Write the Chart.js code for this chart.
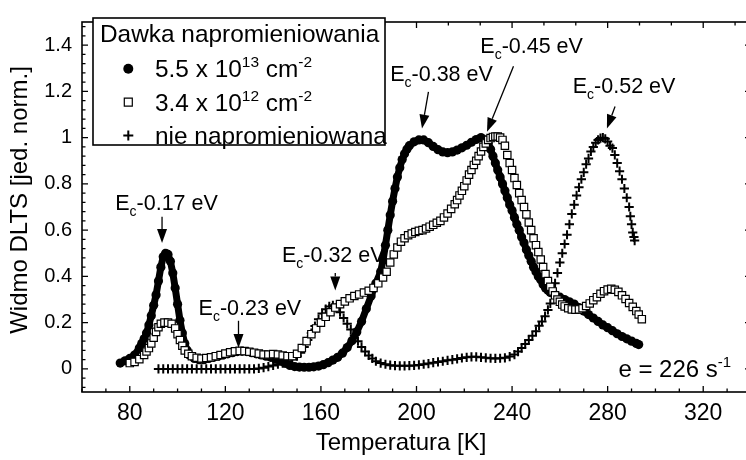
<!DOCTYPE html>
<html>
<head>
<meta charset="utf-8">
<script src="https://cdn.jsdelivr.net/npm/chart.js@4/dist/chart.umd.min.js"></script>
<style>
  html, body { margin: 0; padding: 0; background: #fff; overflow: hidden; }
  #wrap { position: relative; width: 760px; height: 460px; }
</style>
</head>
<body>
<div id="wrap"><canvas id="dlts"></canvas></div>
<script>
const FONT = "'Liberation Sans', Arial, Helvetica, sans-serif";

// DLTS spectrum, dose 5.5 x 10^13 cm^-2
const tempHigh = [76,78,80,82,84,85,86,87,88,89,90,91,92,93,94,95,96,97,98,99,100,101,102,103,104,105,107,109,111,113,115,117,119,121,123,125,127,129,131,133,135,137,139,141,143,145,147,149,151,153,155,157,159,161,163,165,167,169,171,173,175,177,179,181,183,185,186,187,188,189,190,191,192,193,194,195,196,197,199,201,203,205,207,209,211,213,215,217,219,221,223,225,227,229,230,231,232,233,234,235,236,237,238,239,240,241,242,243,244,245,246,247,248,249,250,251,252,253,254,255,256,258,260,262,264,266,268,270,272,274,276,278,280,282,284,286,288,290,292,293];
const dltsHigh = [0.025,0.035,0.045,0.06,0.09,0.11,0.13,0.155,0.19,0.23,0.275,0.32,0.38,0.44,0.485,0.5,0.495,0.465,0.415,0.35,0.28,0.21,0.155,0.11,0.08,0.06,0.045,0.04,0.04,0.045,0.05,0.055,0.06,0.065,0.07,0.075,0.076,0.075,0.07,0.065,0.06,0.055,0.05,0.043,0.033,0.024,0.015,0.01,0.008,0.007,0.007,0.009,0.012,0.018,0.027,0.038,0.05,0.068,0.092,0.122,0.16,0.205,0.26,0.315,0.37,0.42,0.47,0.535,0.6,0.665,0.725,0.78,0.83,0.87,0.905,0.93,0.95,0.965,0.982,0.99,0.99,0.978,0.962,0.948,0.938,0.935,0.938,0.946,0.956,0.967,0.98,0.992,1.0,0.99,0.975,0.95,0.92,0.89,0.86,0.83,0.8,0.77,0.74,0.71,0.685,0.655,0.625,0.6,0.57,0.545,0.515,0.49,0.465,0.44,0.42,0.4,0.385,0.365,0.35,0.34,0.33,0.32,0.31,0.3,0.29,0.28,0.265,0.25,0.235,0.22,0.205,0.19,0.178,0.165,0.152,0.14,0.13,0.12,0.11,0.105];

// DLTS spectrum, dose 3.4 x 10^12 cm^-2
const tempLow = [80,82,84,86,87,88,89,90,91,92,93,94.5,96,97.5,99,100,101,102,103,104.5,106,108,110,112,114,116,118,120,122,124,126,128,130,132,134,136,138,140,142,144,146,148,150,152,154,156,158,160,162,164,166,168,170,172,174,176,178,180,182,184,186,187.5,189,190.5,192,193.5,195,196.5,198,199.5,201,202.5,204,205.5,207,208.5,210,211.5,213,214.5,216,217,218,219,220,221,222,223,224,225,226,227,228,229,230,231,232,233,234,235,236,237,238,239,240,241,242,243,244,245,246,247,248,249,250,251,252,253,254,255,256,257,258,259,260,261,262,263.5,265,266.5,268,269.5,271,272.5,274,275.5,277,278.5,280,281.5,283,284.5,286,287.5,289,290.5,292,293,294.3];
const dltsLow = [0.025,0.03,0.042,0.06,0.075,0.09,0.11,0.135,0.16,0.18,0.195,0.2,0.2,0.195,0.175,0.15,0.125,0.1,0.08,0.065,0.055,0.048,0.045,0.047,0.05,0.055,0.06,0.066,0.072,0.076,0.078,0.077,0.074,0.07,0.066,0.062,0.062,0.064,0.062,0.058,0.055,0.055,0.065,0.09,0.12,0.15,0.175,0.2,0.225,0.245,0.265,0.28,0.292,0.305,0.315,0.322,0.33,0.338,0.35,0.37,0.395,0.42,0.46,0.495,0.525,0.55,0.565,0.578,0.585,0.592,0.597,0.6,0.607,0.615,0.623,0.632,0.64,0.655,0.672,0.692,0.712,0.73,0.75,0.77,0.79,0.815,0.84,0.86,0.882,0.9,0.92,0.94,0.96,0.975,0.99,0.998,1.003,1.005,1.005,1.0,0.99,0.965,0.925,0.89,0.86,0.825,0.795,0.76,0.73,0.7,0.668,0.633,0.6,0.565,0.535,0.505,0.473,0.44,0.41,0.38,0.355,0.335,0.318,0.3,0.29,0.278,0.27,0.262,0.257,0.256,0.257,0.262,0.272,0.283,0.297,0.31,0.325,0.336,0.343,0.346,0.342,0.333,0.318,0.302,0.285,0.268,0.25,0.235,0.215];

// DLTS spectrum, non-irradiated sample
const tempRef = [92,94,96,98,100,102,104,106,108,110,112,114,116,118,120,122,124,126,128,130,132,134,136,138,140,142,144,146,148,150,151.5,153,154.5,156,157.5,159,160.5,162,163.5,165,166.5,168,169.5,171,172.5,174,175.5,177,178.5,180,181.5,183,185,187,189,191,193,195,197,199,201,203,205,207,209,211,213,215,217,219,221,223,225,227,229,231,233,235,237,239,241,242.5,244,245.5,247,248.5,250,251.3,252.5,253.8,255,256,257,258,259,260,261,262,263,264,265,266,267,268,269,270,271,272,273,274,275,276,277,278,279,280,281,282,283,284,285,286,287,288,289,289.5,290,290.5,291,291.3];
const dltsRef = [0,0,0,0,0,0,0,0,0,0,0,0,0,0,0,0,0,0,0,0,0,0.002,0.005,0.01,0.015,0.02,0.025,0.032,0.042,0.055,0.07,0.095,0.125,0.155,0.185,0.215,0.24,0.258,0.27,0.275,0.265,0.245,0.22,0.195,0.17,0.145,0.12,0.095,0.075,0.058,0.045,0.033,0.025,0.02,0.016,0.014,0.013,0.013,0.014,0.015,0.017,0.02,0.023,0.027,0.03,0.033,0.037,0.04,0.043,0.047,0.05,0.052,0.052,0.05,0.048,0.046,0.045,0.046,0.048,0.053,0.062,0.075,0.09,0.108,0.125,0.143,0.163,0.187,0.205,0.228,0.255,0.283,0.325,0.37,0.415,0.46,0.5,0.54,0.58,0.625,0.67,0.71,0.75,0.785,0.82,0.85,0.885,0.91,0.94,0.96,0.978,0.99,0.998,1.0,0.995,0.983,0.965,0.955,0.925,0.89,0.855,0.82,0.78,0.74,0.7,0.66,0.625,0.59,0.57,0.555];

// Axis tick values
const xTickValues = [80, 120, 160, 200, 240, 280, 320];
const yTickValues = [0, 0.2, 0.4, 0.6, 0.8, 1, 1.2, 1.4];

// Legend
const legendTitle = 'Dawka napromieniowania';
const legendDoses = [
  [['5.5 x 10', 0], ['13', 1], [' cm', 0], ['-2', 1]],
  [['3.4 x 10', 0], ['12', 1], [' cm', 0], ['-2', 1]],
  [['nie napromieniowana', 0]]
];

// Trap level labels: energy, label anchor (T, value), arrow start, arrow tip
const levelEnergies = ['-0.17 eV', '-0.23 eV', '-0.32 eV', '-0.38 eV', '-0.45 eV', '-0.52 eV'];
const levelLabelAt = [[73.9, 0.685], [108.8, 0.235], [143.7, 0.464], [189.0, 1.243], [226.7, 1.364], [265.4, 1.191]];
const levelArrowFrom = [[93.5, 0.658], [125.5, 0.208], [166.0, 0.415], [205.0, 1.198], [240.6, 1.309], [283.1, 1.135]];
const levelArrowTo = [[93.5, 0.544], [125.5, 0.090], [166.0, 0.339], [202.3, 1.039], [229.5, 1.025], [279.7, 1.039]];

const rateLabel = [['e = 226 s', 0], ['-1', 1]];
const rateLabelAt = [284.5, -0.035];

const xTitle = 'Temperatura [K]';
const yTitle = 'Widmo DLTS [jed. norm.]';

function points(xs, ys) { return xs.map((x, i) => ({ x: x, y: ys[i] })); }

// Rich text: parts of [text, mode] with 0 = normal, 1 = superscript, 2 = subscript
function drawRich(ctx, parts, x, y, size, smallSize, supRise, subDrop) {
  ctx.textBaseline = 'alphabetic';
  ctx.textAlign = 'left';
  let cx = x;
  parts.forEach(([t, mode]) => {
    const s = mode === 0 ? size : smallSize;
    ctx.font = s + 'px ' + FONT;
    const dy = mode === 1 ? -supRise : (mode === 2 ? subDrop : 0);
    ctx.fillText(t, cx, y + dy);
    cx += ctx.measureText(t).width;
  });
  return cx;
}

function drawMarker(ctx, style, x, y) {
  ctx.save();
  ctx.strokeStyle = '#000';
  ctx.fillStyle = '#000';
  if (style === 'circle') {
    ctx.beginPath(); ctx.arc(x, y, 5, 0, Math.PI * 2); ctx.fill();
  } else if (style === 'rect') {
    ctx.lineWidth = 1.2; ctx.fillStyle = '#fff';
    ctx.beginPath(); ctx.rect(x - 4, y - 4, 8, 8); ctx.fill(); ctx.stroke();
  } else {
    ctx.lineWidth = 2;
    ctx.beginPath();
    ctx.moveTo(x - 5, y); ctx.lineTo(x + 5, y);
    ctx.moveTo(x, y - 5); ctx.lineTo(x, y + 5);
    ctx.stroke();
  }
  ctx.restore();
}

const decorations = {
  id: 'decorations',
  afterDraw(chart) {
    const ctx = chart.ctx;
    const xs = chart.scales.x, ys = chart.scales.y;
    const a = chart.chartArea;
    ctx.save();

    // Frame
    ctx.strokeStyle = '#000';
    ctx.lineWidth = 1.6;
    ctx.strokeRect(a.left, a.top, a.right - a.left, a.bottom - a.top);

    // Inward ticks
    ctx.lineWidth = 1.3;
    ctx.beginPath();
    for (let t = 60; t <= 340.01; t += 10) {
      const px = xs.getPixelForValue(t);
      const len = (t % 40 === 0) ? 6 : 3.5;
      ctx.moveTo(px, a.bottom); ctx.lineTo(px, a.bottom - len);
    }
    for (let i = 0; ; i++) {
      const t = 40 + i * 40 / 3;
      if (t > 340.01) break;
      if (t < 60) continue;
      const px = xs.getPixelForValue(t);
      const len = (i % 3 === 0) ? 6 : 3.5;
      ctx.moveTo(px, a.top); ctx.lineTo(px, a.top + len);
    }
    for (let i = -2; i <= 37; i++) {
      const v = i * 0.04;
      const py = ys.getPixelForValue(v);
      const len = (i % 5 === 0) ? 6 : 3.5;
      ctx.moveTo(a.left, py); ctx.lineTo(a.left + len, py);
      ctx.moveTo(a.right, py); ctx.lineTo(a.right - len, py);
    }
    ctx.stroke();

    // Axis titles
    ctx.fillStyle = '#000';
    ctx.font = '24px ' + FONT;
    ctx.textAlign = 'center';
    ctx.textBaseline = 'alphabetic';
    ctx.fillText(xTitle, 401, 450);
    ctx.save();
    ctx.translate(27, 200);
    ctx.rotate(-Math.PI / 2);
    ctx.fillText(yTitle, 0, 0);
    ctx.restore();

    // Trap level labels with arrows
    levelEnergies.forEach((e, i) => {
      const lx = xs.getPixelForValue(levelLabelAt[i][0]);
      const ly = ys.getPixelForValue(levelLabelAt[i][1]);
      drawRich(ctx, [['E', 0], ['c', 2], [e, 0]], lx, ly, 21.5, 14, 0, 6);
      const x0 = xs.getPixelForValue(levelArrowFrom[i][0]);
      const y0 = ys.getPixelForValue(levelArrowFrom[i][1]);
      const x1 = xs.getPixelForValue(levelArrowTo[i][0]);
      const y1 = ys.getPixelForValue(levelArrowTo[i][1]);
      const ang = Math.atan2(y1 - y0, x1 - x0);
      const hl = 14, hw = 5;
      const bx = x1 - hl * Math.cos(ang), by = y1 - hl * Math.sin(ang);
      ctx.lineWidth = 1.3;
      ctx.beginPath(); ctx.moveTo(x0, y0); ctx.lineTo(bx, by); ctx.stroke();
      ctx.beginPath();
      ctx.moveTo(x1, y1);
      ctx.lineTo(bx + hw * Math.sin(ang), by - hw * Math.cos(ang));
      ctx.lineTo(bx - hw * Math.sin(ang), by + hw * Math.cos(ang));
      ctx.closePath(); ctx.fill();
    });

    // Emission rate
    drawRich(ctx, rateLabel, xs.getPixelForValue(rateLabelAt[0]), ys.getPixelForValue(rateLabelAt[1]), 24, 15, 10, 0);

    // Legend
    ctx.fillStyle = '#fff';
    ctx.fillRect(93, 18, 292, 127);
    ctx.strokeStyle = '#000';
    ctx.lineWidth = 1.6;
    ctx.strokeRect(93, 18, 292, 127);
    ctx.fillStyle = '#000';
    drawRich(ctx, [[legendTitle, 0]], 100, 42, 24.4, 15, 10, 0);
    const styles = chart.data.datasets.map(d => d.pointStyle);
    legendDoses.forEach((parts, i) => {
      const base = 77.3 + i * 33.3;
      drawMarker(ctx, styles[i], 128.3, base - 8.5);
      drawRich(ctx, parts, 155, base, 24.4, 15.5, 10, 0);
    });

    ctx.restore();
  }
};

new Chart(document.getElementById('dlts'), {
  type: 'scatter',
  data: {
    datasets: [
      {
        label: '5.5 x 10^13 cm^-2',
        data: points(tempHigh, dltsHigh),
        showLine: true,
        borderColor: '#000',
        borderWidth: 7,
        pointStyle: 'circle',
        pointRadius: 4.6,
        pointBackgroundColor: '#000',
        pointBorderColor: '#000',
        pointBorderWidth: 0,
        order: 3
      },
      {
        label: '3.4 x 10^12 cm^-2',
        data: points(tempLow, dltsLow),
        pointStyle: 'rect',
        pointRadius: 5.2,
        pointBackgroundColor: '#fff',
        pointBorderColor: '#000',
        pointBorderWidth: 1.2,
        order: 1
      },
      {
        label: 'nie napromieniowana',
        data: points(tempRef, dltsRef),
        pointStyle: 'cross',
        pointRadius: 4.6,
        pointBorderColor: '#000',
        pointBorderWidth: 2,
        order: 2
      }
    ]
  },
  options: {
    responsive: true,
    maintainAspectRatio: false,
    animation: false,
    devicePixelRatio: 1,
    layout: { padding: { top: 7, right: 9, left: 0, bottom: 0 } },
    plugins: { legend: { display: false }, tooltip: { enabled: false } },
    scales: {
      x: {
        type: 'linear', min: 60, max: 340,
        afterBuildTicks: s => { s.ticks = xTickValues.map(v => ({ value: v })); },
        afterFit: s => { s.height = 68; },
        grid: { display: false, drawTicks: false },
        border: { display: false },
        ticks: { color: '#000', font: { family: FONT, size: 23 }, padding: 8, maxRotation: 0, autoSkip: false }
      },
      y: {
        type: 'linear', min: -0.1, max: 1.5,
        afterBuildTicks: s => { s.ticks = yTickValues.map(v => ({ value: v })); },
        afterFit: s => { s.width = 82; },
        grid: { display: false, drawTicks: false },
        border: { display: false },
        ticks: {
          color: '#000', font: { family: FONT, size: 20 }, padding: 10, autoSkip: false,
          callback: v => String(Math.round(v * 10) / 10)
        }
      }
    }
  },
  plugins: [decorations]
});
</script>
</body>
</html>
